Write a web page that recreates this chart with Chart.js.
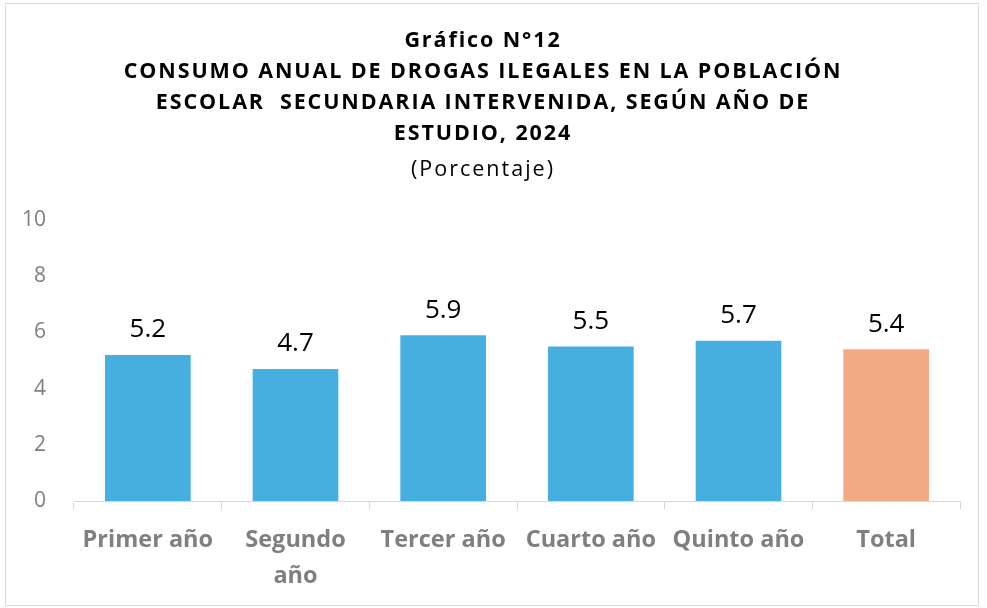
<!DOCTYPE html>
<html><head><meta charset="utf-8">
<script src="https://cdn.jsdelivr.net/npm/chart.js@4/dist/chart.umd.min.js"></script>
<style>
html,body{margin:0;padding:0;background:#fff;}
#box{position:absolute;left:5px;top:3px;width:972px;height:601px;border:1px solid #d9d9d9;}
canvas{display:block;}
</style></head>
<body>
<div id="box"><canvas id="c" width="972" height="601"></canvas></div>
<script>
const titleLines = ["Gráfico N°12", "CONSUMO ANUAL DE DROGAS ILEGALES EN LA POBLACIÓN", "ESCOLAR  SECUNDARIA INTERVENIDA, SEGÚN AÑO DE", "ESTUDIO, 2024"];
const subtitle = "(Porcentaje)";
const categories = ["Primer año", ["Segundo", "año"], "Tercer año", "Cuarto año", "Quinto año", "Total"];
const values = [5.2, 4.7, 5.9, 5.5, 5.7, 5.4];
const barColors = ["#47AFE0", "#47AFE0", "#47AFE0", "#47AFE0", "#47AFE0", "#F2AA84"];
const yTicks = [0, 2, 4, 6, 8, 10];

const FONT = "'Open Sans', Lato, sans-serif";

const titlePlugin = {
  id: 'titleText',
  afterDraw(chart) {
    const ctx = chart.ctx;
    ctx.save();
    ctx.fillStyle = '#000';
    ctx.textAlign = 'center';
    ctx.textBaseline = 'middle';
    const cx = chart.width / 2 - 9;
    ctx.font = "bold 21.5px " + FONT;
    ctx.letterSpacing = '1.9px';
    titleLines.forEach((t, i) => ctx.fillText(t, cx, 37 + i * 31));
    ctx.font = "21.5px " + FONT;
    ctx.letterSpacing = '2px';
    ctx.fillText(subtitle, cx, 166);
    ctx.restore();
  }
};

const labelPlugin = {
  id: 'barLabels',
  afterDatasetsDraw(chart) {
    const ctx = chart.ctx;
    const meta = chart.getDatasetMeta(0);
    ctx.save();
    ctx.fillStyle = '#000';
    ctx.font = "26px " + FONT;
    ctx.textAlign = 'center';
    ctx.textBaseline = 'middle';
    meta.data.forEach((bar, i) => {
      ctx.fillText(values[i].toFixed(1), bar.x, bar.y - 25);
    });
    ctx.restore();
  }
};

new Chart(document.getElementById('c'), {
  type: 'bar',
  data: {
    labels: categories,
    datasets: [{ data: values, backgroundColor: barColors, borderWidth: 0,
      barPercentage: 0.58, categoryPercentage: 1 }]
  },
  options: {
    responsive: false,
    animation: false,
    layout: { padding: { top: 216, right: 18, left: 0, bottom: 0 } },
    plugins: { legend: { display: false }, tooltip: { enabled: false }, title: { display: false } },
    scales: {
      x: {
        offset: true,
        grid: { display: true, offset: true, drawOnChartArea: false, drawTicks: true, tickLength: 8, color: '#d9d9d9' },
        border: { display: true, color: '#d9d9d9' },
        ticks: { color: '#7f7f7f', font: { family: FONT, size: 23.5, weight: 'bold', lineHeight: 1.5 }, padding: 14, maxRotation: 0, autoSkip: false },
        afterFit(scale) { scale.height = 104; }
      },
      y: {
        min: 0, max: 10,
        afterBuildTicks(scale) { scale.ticks = yTicks.map(v => ({ value: v })); },
        grid: { display: false },
        border: { display: false },
        ticks: { color: '#7f7f7f', font: { family: FONT, size: 21 }, padding: 20 },
        afterFit(scale) { scale.width = 68; }
      }
    }
  },
  plugins: [titlePlugin, labelPlugin]
});
</script>
</body></html>
